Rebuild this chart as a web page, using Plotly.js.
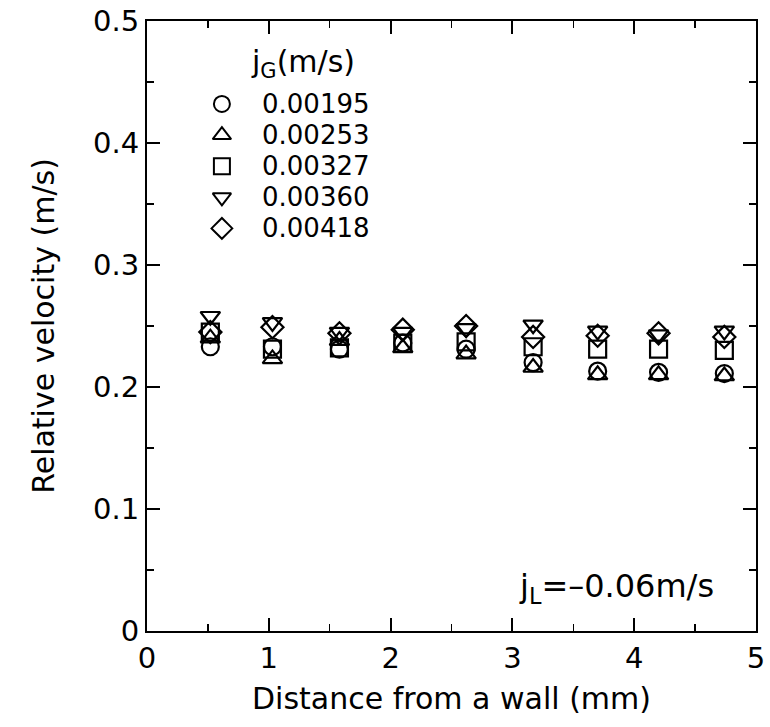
<!DOCTYPE html>
<html>
<head>
<meta charset="utf-8">
<script src="https://cdn.plot.ly/plotly-3.0.1.min.js"></script>
<style>body{margin:0;padding:0;background:#fff;}</style>
</head>
<body>
<div id="chart" style="width:770px;height:727px;"></div>
<script>
// Data
const distance = [0.52, 1.03, 1.58, 2.10, 2.62, 3.17, 3.70, 4.20, 4.74];
const seriesNames = ["0.00195", "0.00253", "0.00327", "0.00360", "0.00418"];
const v00195 = [0.233, 0.233, 0.231, 0.236, 0.231, 0.220, 0.213, 0.212, 0.211];
const v00253 = [0.240, 0.223, 0.238, 0.232, 0.227, 0.216, 0.210, 0.210, 0.209];
const v00327 = [0.245, 0.231, 0.232, 0.236, 0.237, 0.233, 0.231, 0.231, 0.230];
const v00360 = [0.258, 0.253, 0.245, 0.245, 0.248, 0.251, 0.246, 0.243, 0.246];
const v00418 = [0.245, 0.249, 0.244, 0.247, 0.250, 0.241, 0.242, 0.244, 0.241];
const symbols = ["circle-open", "triangle-up-open", "square-open", "triangle-down-open", "diamond-open"];
const seriesValues = [v00195, v00253, v00327, v00360, v00418];

const FONT = "DejaVu Sans, Liberation Sans, sans-serif";
const traces = [];
seriesValues.forEach((vals, i) => {
  traces.push({
    x: distance, y: vals, type: "scatter", mode: "markers", name: seriesNames[i],
    showlegend: false,
    marker: {symbol: symbols[i], size: 17, color: "#000", line: {color: "#000", width: 2.2}}
  });
});

// Legend keys drawn on a hidden overlay axis (0..1 fractions of the plot area)
const keyX = 0.123;
const keyY = [0.864, 0.813, 0.762, 0.711, 0.660];
seriesNames.forEach((n, i) => {
  traces.push({
    x: [keyX], y: [keyY[i]], xaxis: "x2", yaxis: "y2", type: "scatter", mode: "markers",
    showlegend: false, hoverinfo: "skip",
    marker: {symbol: symbols[i], size: 16, color: "#000", line: {color: "#000", width: 2}}
  });
});

const annotations = [
  {xref: "x2", yref: "y2", x: 0.168, y: 0.93, xanchor: "left", yanchor: "middle", showarrow: false,
   text: "j<sub>G</sub>(m/s)", font: {family: FONT, size: 30, color: "#000"}}
];
seriesNames.forEach((n, i) => {
  annotations.push({xref: "x2", yref: "y2", x: 0.186, y: keyY[i], xanchor: "left", yanchor: "middle",
    showarrow: false, text: n, font: {family: FONT, size: 26, color: "#000"}});
});
annotations.push({xref: "x2", yref: "y2", x: 0.608, y: 0.07, xanchor: "left", yanchor: "middle",
  showarrow: false, text: "j<sub>L</sub>=–0.06m/s", font: {family: FONT, size: 32, color: "#000"}});

const axisCommon = {
  showline: true, linecolor: "#000", linewidth: 2, mirror: "ticks",
  ticks: "inside", tickcolor: "#000", tickwidth: 2, ticklen: 13,
  showgrid: false, zeroline: false,
  tickfont: {family: FONT, size: 29, color: "#000"}
};

const layout = {
  width: 770, height: 727,
  margin: {l: 147, r: 14, t: 21, b: 96},
  paper_bgcolor: "#fff", plot_bgcolor: "#fff",
  showlegend: false,
  xaxis: Object.assign({}, axisCommon, {
    range: [0, 5], dtick: 1, tick0: 0,
    minor: {dtick: 0.5, ticklen: 7, tickwidth: 1.5, ticks: "inside", tickcolor: "#000"},
    title: {text: "Distance from a wall (mm)", font: {family: FONT, size: 30, color: "#000"}, standoff: 14}
  }),
  yaxis: Object.assign({}, axisCommon, {
    range: [0, 0.5], dtick: 0.1, tick0: 0,
    minor: {dtick: 0.05, ticklen: 7, tickwidth: 1.5, ticks: "inside", tickcolor: "#000"},
    title: {text: "Relative velocity (m/s)", font: {family: FONT, size: 30, color: "#000"}, standoff: 30}
  }),
  xaxis2: {overlaying: "x", range: [0, 1], visible: false, fixedrange: true},
  yaxis2: {overlaying: "y", range: [0, 1], visible: false, fixedrange: true},
  annotations: annotations
};

Plotly.newPlot("chart", traces, layout, {staticPlot: true, displayModeBar: false});
</script>
</body>
</html>
